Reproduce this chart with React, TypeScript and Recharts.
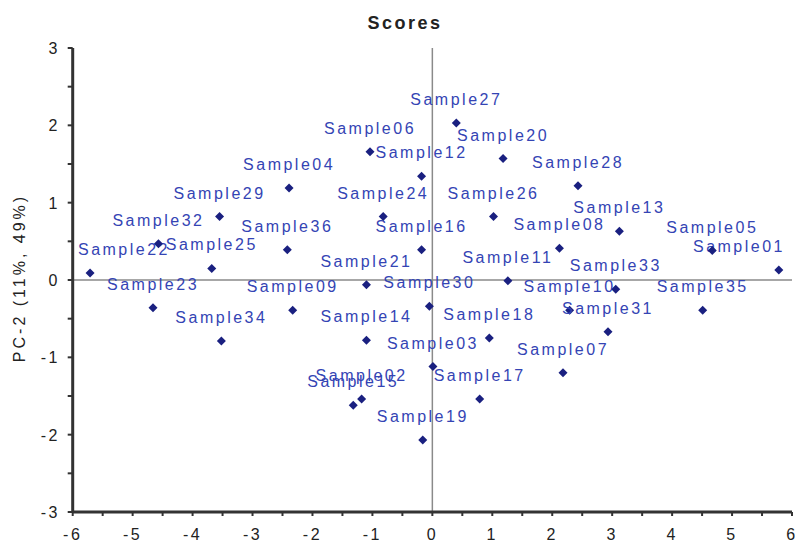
import React from "react";
import { ScatterChart, Scatter, XAxis, YAxis, ReferenceLine } from "recharts";

const sampleNames = [
  "Sample01", "Sample02", "Sample03", "Sample04", "Sample05", "Sample06",
  "Sample07", "Sample08", "Sample09", "Sample10", "Sample11", "Sample12",
  "Sample13", "Sample14", "Sample15", "Sample16", "Sample17", "Sample18",
  "Sample19", "Sample20", "Sample21", "Sample22", "Sample23", "Sample24",
  "Sample25", "Sample26", "Sample27", "Sample28", "Sample29", "Sample30",
  "Sample31", "Sample32", "Sample33", "Sample34", "Sample35", "Sample36",
];

// PC-1 scores
const pc1Scores = [
  5.78, -1.18, 0.01, -2.39, 4.67, -1.04,
  2.18, 2.12, -2.33, 2.29, 1.26, -0.18,
  3.12, -1.1, -1.32, -0.18, 0.79, 0.95,
  -0.16, 1.18, -1.1, -5.71, -4.66, -0.82,
  -3.68, 1.02, 0.4, 2.43, -3.55, -0.05,
  2.93, -4.57, 3.06, -3.52, 4.51, -2.42,
];

// PC-2 scores
const pc2Scores = [
  0.13, -1.54, -1.12, 1.19, 0.38, 1.66,
  -1.2, 0.41, -0.39, -0.39, -0.01, 1.34,
  0.63, -0.78, -1.62, 0.39, -1.54, -0.75,
  -2.07, 1.57, -0.06, 0.09, -0.36, 0.82,
  0.15, 0.82, 2.03, 1.22, 0.82, -0.34,
  -0.67, 0.47, -0.12, -0.79, -0.39, 0.39,
];

const xTicks = [-6, -5.5, -5, -4.5, -4, -3.5, -3, -2.5, -2, -1.5, -1, -0.5, 0, 0.5, 1, 1.5, 2, 2.5, 3, 3.5, 4, 4.5, 5, 5.5, 6];
const yTicks = [-3, -2.5, -2, -1.5, -1, -0.5, 0, 0.5, 1, 1.5, 2, 2.5, 3];

const data = sampleNames.map((name, i) => ({ name, pc1: pc1Scores[i], pc2: pc2Scores[i] }));

const FONT = '"Liberation Sans", Arial, sans-serif';
const TEXT = "#222";

function PointWithLabel(props: any) {
  const { cx, cy, payload } = props;
  if (cx == null || cy == null) return null;
  const h = 4.5;
  // keep the label inside the plot area like Excel does
  const lx = Math.min(Math.max(cx, 124), 739);
  return (
    <g>
      <path
        d={`M${cx},${cy - h}L${cx + h},${cy}L${cx},${cy + h}L${cx - h},${cy}Z`}
        fill="#1a2080"
      />
      <text
        x={lx}
        y={cy - 18}
        textAnchor="middle"
        fill="#3444b4"
        fontSize={16}
        fontFamily={FONT}
        letterSpacing={2.5}
      >
        {payload.name}
      </text>
    </g>
  );
}

function XTick({ x, y, payload }: any) {
  const v = payload.value;
  if (!Number.isInteger(v)) return null;
  return (
    <text x={x} y={y} dy={24} textAnchor="middle" fill={TEXT} fontSize={16} fontFamily={FONT} letterSpacing={2.5}>
      {v}
    </text>
  );
}

function YTick({ y, payload }: any) {
  const v = payload.value;
  if (!Number.isInteger(v)) return null;
  return (
    <text x={60} y={y} dy={6} textAnchor="end" fill={TEXT} fontSize={16} fontFamily={FONT} letterSpacing={2.5}>
      {v}
    </text>
  );
}

export default function App() {
  return (
    <div style={{ position: "absolute", left: 0, top: 0, width: 795, height: 545, background: "#fff" }}>
      <div
        style={{
          position: "absolute",
          left: 0,
          top: 14,
          width: 810,
          textAlign: "center",
          fontFamily: FONT,
          fontWeight: "bold",
          fontSize: 18,
          lineHeight: "18px",
          letterSpacing: 2.5,
          color: TEXT,
        }}
      >
        Scores
      </div>
      <div
        style={{
          position: "absolute",
          left: 20,
          top: 278,
          transform: "translate(-50%, -50%) rotate(-90deg)",
          whiteSpace: "nowrap",
          fontFamily: FONT,
          fontSize: 16,
          lineHeight: "16px",
          letterSpacing: 3,
          color: TEXT,
        }}
      >
        PC-2 (11%, 49%)
      </div>
      <ScatterChart width={795} height={545} margin={{ top: 48, right: 3, bottom: 0, left: 0 }}>
        <XAxis
          type="number"
          dataKey="pc1"
          domain={[-6, 6]}
          ticks={xTicks}
          interval={0}
          height={33}
          tickSize={4}
          tickMargin={0}
          tick={<XTick />}
          axisLine={{ stroke: "#333", strokeWidth: 3 }}
          tickLine={{ stroke: "#333", strokeWidth: 2 }}
        />
        <YAxis
          type="number"
          dataKey="pc2"
          domain={[-3, 3]}
          ticks={yTicks}
          interval={0}
          width={72.7}
          tickSize={5}
          tick={<YTick />}
          axisLine={{ stroke: "#333", strokeWidth: 3 }}
          tickLine={{ stroke: "#333", strokeWidth: 2 }}
        />
        <ReferenceLine x={0} stroke="#8a8a8a" strokeWidth={1.5} />
        <ReferenceLine y={0} stroke="#8a8a8a" strokeWidth={1.5} />
        <Scatter data={data} shape={<PointWithLabel />} isAnimationActive={false} />
      </ScatterChart>
    </div>
  );
}
